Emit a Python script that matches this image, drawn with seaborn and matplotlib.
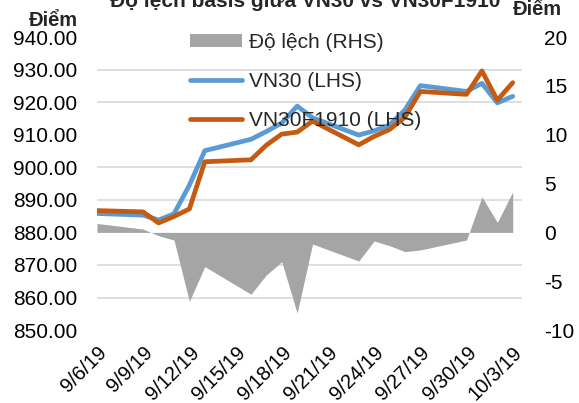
import pandas as pd
import matplotlib.pyplot as plt
import matplotlib.ticker as mticker
from matplotlib.patches import Patch
from matplotlib.lines import Line2D
import seaborn as sns

# === DATA ===
dates = pd.to_datetime([
    "2019-09-06", "2019-09-09", "2019-09-10", "2019-09-11", "2019-09-12",
    "2019-09-13", "2019-09-16", "2019-09-17", "2019-09-18", "2019-09-19",
    "2019-09-20", "2019-09-23", "2019-09-24", "2019-09-25", "2019-09-26",
    "2019-09-27", "2019-09-30", "2019-10-01", "2019-10-02", "2019-10-03",
])
vn30 = [885.8, 885.3, 883.8, 885.7, 894.5, 905.1, 908.6, 911.0, 913.6, 918.8,
        915.2, 909.9, 911.2, 913.0, 917.6, 925.1, 923.3, 925.8, 919.8, 921.8]
vn30f = [886.7, 886.3, 882.9, 884.9, 887.2, 901.7, 902.3, 906.8, 910.2, 910.8,
         914.2, 906.9, 909.5, 911.6, 915.4, 923.3, 922.4, 929.6, 920.6, 926.0]
deviation = [0.92, 0.34, -0.34, -0.78, -7.07, -3.5, -6.33, -4.35, -3.0, -8.27,
             -1.19, -2.93, -0.88, -1.36, -1.97, -1.8, -0.78, 3.64, 1.02, 4.15]

tick_dates = pd.date_range("2019-09-06", "2019-10-03", freq="3D")
tick_labels = [f"{d.month}/{d.day}/{d.strftime('%y')}" for d in tick_dates]

df = pd.DataFrame({"date": dates, "VN30": vn30, "VN30F1910": vn30f, "dev": deviation})

sns.set_theme(style="white")
plt.rcParams["font.family"] = ["Liberation Sans", "DejaVu Sans"]
plt.rcParams["axes.unicode_minus"] = False

BLUE = "#5B9BD5"
ORANGE = "#C55A11"
GREY = "#A5A5A5"
GRID = "#D9D9D9"
FS = 15

fig = plt.figure(figsize=(5.79, 4.03), dpi=100)
ax1 = fig.add_axes([0.1675, 0.181, 0.734, 0.727])
ax2 = ax1.twinx()

# --- area: deviation on the right axis ---
ax2.fill_between(df["date"], 0, df["dev"], color=GREY, lw=0)
ax2.set_ylim(-10, 20)
ax2.set_yticks(range(-10, 21, 5))
ax2.yaxis.set_minor_locator(mticker.MultipleLocator(10 / 3))
ax2.grid(which="minor", axis="y", color=GRID, lw=1.2)
ax2.grid(which="major", axis="y", visible=False)
ax2.set_axisbelow(True)
ax2.tick_params(axis="y", which="both", length=0, pad=16, labelsize=FS, colors="black")
ax2.set_ylabel("")

# --- lines on the left axis ---
sns.lineplot(data=df, x="date", y="VN30", ax=ax1, color=BLUE, lw=3.4, legend=False)
sns.lineplot(data=df, x="date", y="VN30F1910", ax=ax1, color=ORANGE, lw=3.4, legend=False)
ax1.set_ylim(850, 940)
ax1.set_yticks(range(850, 941, 10))
ax1.yaxis.set_major_formatter(mticker.FormatStrFormatter("%.2f"))
ax1.set_xlim(dates[0], dates[0] + pd.Timedelta(days=27.6))
ax1.set_xticks(tick_dates)
ax1.set_xticklabels(tick_labels, rotation=45, ha="right", rotation_mode="anchor")
ax1.tick_params(axis="y", length=0, pad=14, labelsize=FS, colors="black")
ax1.tick_params(axis="x", length=0, pad=9, labelsize=14.5, colors="black")
ax1.set_xlabel("")
ax1.set_ylabel("")
ax1.set_zorder(ax2.get_zorder() + 1)
ax1.patch.set_visible(False)

for a in (ax1, ax2):
    for s in a.spines.values():
        s.set_visible(False)

handles = [
    Patch(facecolor=GREY, edgecolor="none"),
    Line2D([0], [0], color=BLUE, lw=3.4),
    Line2D([0], [0], color=ORANGE, lw=3.4),
]
labels = ["Độ lệch (RHS)", "VN30 (LHS)", "VN30F1910 (LHS)"]
ax1.legend(handles, labels, loc="upper left", bbox_to_anchor=(190 / 579, 1 - 33 / 403),
           bbox_transform=fig.transFigure, frameon=False, fontsize=FS,
           borderpad=0, borderaxespad=0, labelspacing=0.95, handlelength=2.5,
           handleheight=0.55, handletextpad=0.35)

fig.text(0.527, 1 - 7 / 403, "Độ lệch basis giữa VN30 vs VN30F1910", ha="center",
         va="baseline", fontsize=FS, fontweight="bold")
fig.text(78 / 579, 1 - 26 / 403, "Điểm", ha="right", va="baseline", fontsize=FS - 0.5,
         fontweight="bold")
fig.text(562 / 579, 1 - 15 / 403, "Điểm", ha="right", va="baseline", fontsize=FS - 0.5,
         fontweight="bold")

fig.savefig("out.png", dpi=100)
